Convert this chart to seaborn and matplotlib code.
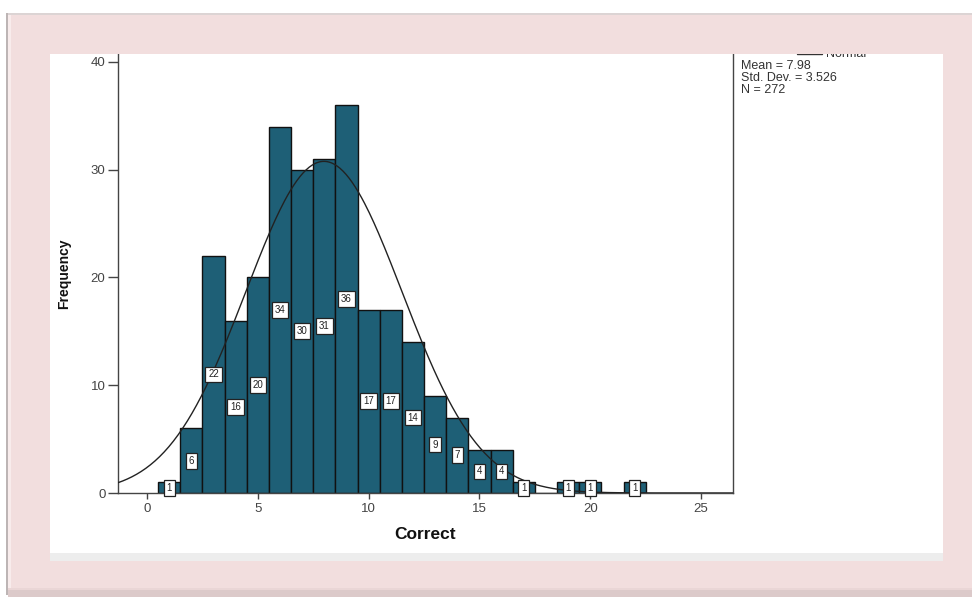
import numpy as np
import matplotlib
matplotlib.use("Agg")
import matplotlib.pyplot as plt
from matplotlib.patches import Rectangle
from matplotlib.lines import Line2D
import seaborn as sns

# ---- data ----
scores = [1, 2, 3, 4, 5, 6, 7, 8, 9, 10, 11, 12, 13, 14, 15, 16, 17, 19, 20, 22]
counts = [1, 6, 22, 16, 20, 34, 30, 31, 36, 17, 17, 14, 9, 7, 4, 4, 1, 1, 1, 1]
x_ticks = [0, 5, 10, 15, 20, 25]
y_ticks = [0, 10, 20, 30, 40]
x_label = "Correct"
y_label = "Frequency"

sns.set_style("ticks")
plt.rcParams["font.family"] = ["Liberation Sans", "DejaVu Sans"]

W, H = 972, 597
fig = plt.figure(figsize=(W / 100, H / 100), dpi=100)
fig.patch.set_facecolor("white")

def fx(x):
    return x / W

def fy(y):
    return 1 - y / H

ax = fig.add_axes([fx(118), fy(493), (733 - 118) / W, (493 - 54) / H])
ax.set_facecolor("white")

bar_color = "#1E5F76"
sns.histplot(x=scores, weights=counts, discrete=True, color=bar_color,
             edgecolor="#111111", linewidth=1.0, alpha=1.0, ax=ax, zorder=2)

# fitted normal curve from the data
s = np.array(scores, float)
c = np.array(counts, float)
n = c.sum()
mean = (s * c).sum() / n
sd = np.sqrt(((s - mean) ** 2 * c).sum() / (n - 1))
xs = np.linspace(-1.31, 26.44, 400)
ys = n * 1.0 * np.exp(-0.5 * ((xs - mean) / sd) ** 2) / (sd * np.sqrt(2 * np.pi))
ax.plot(xs, ys, color="#222222", lw=1.0, zorder=3)

for xv, cv in zip(scores, counts):
    ax.text(xv, cv / 2, str(cv), ha="center", va="center", fontsize=7,
            color="#222222", zorder=4,
            bbox=dict(boxstyle="square,pad=0.3", fc="white", ec="#222222", lw=0.9))

ax.set_xlim(-1.31, 26.44)
ax.set_ylim(0, 40.74)
ax.set_xticks(x_ticks)
ax.set_yticks(y_ticks)
ax.tick_params(axis="x", direction="out", length=4, width=1, color="#444444",
               labelsize=9.5, labelcolor="#444444", pad=3)
ax.tick_params(axis="y", direction="out", length=7, width=1, color="#444444",
               labelsize=9.5, labelcolor="#444444", pad=2)
for side in ["left", "bottom", "right"]:
    ax.spines[side].set_visible(True)
    ax.spines[side].set_color("#444444")
    ax.spines[side].set_linewidth(1.0)
ax.spines["top"].set_visible(False)
ax.set_xlabel(x_label, fontsize=12.5, fontweight="bold", color="#111111", labelpad=9)
ax.set_ylabel(y_label, fontsize=10, fontweight="bold", color="#111111", labelpad=14)

# legend text (SPSS style)
fig.text(fx(826), fy(57), "Normal", fontsize=9, color="#333333", va="baseline", ha="left")
fig.add_artist(Line2D([fx(797), fx(822)], [fy(54), fy(54)], color="#333333", lw=1))
fig.text(fx(741), fy(60), "Mean = 7.98\nStd. Dev. = 3.526\nN = 272", fontsize=9,
         color="#333333", va="top", ha="left", linespacing=0.98)

# pink picture frame drawn on top
pink = "#F2DEDE"

def rect(x0, y0, x1, y1, color, z=20):
    fig.add_artist(Rectangle((fx(x0), fy(y1)), (x1 - x0) / W, (y1 - y0) / H,
                             transform=fig.transFigure, facecolor=color,
                             edgecolor="none", zorder=z))

rect(0, 0, W, 13, "white", 19)
rect(8, 13, W, 54, pink)
rect(8, 54, 50, 597, pink)
rect(943, 54, W, 597, pink)
rect(8, 561, W, 597, pink)
rect(50, 553, 943, 561, "#EDEDED")
# frame edges / shadows
rect(6, 13, 8, 595, "#BDB5B5", 21)
rect(8, 13, W, 15, "#DCD4D4", 21)
rect(8, 15, 11, 592, "#F8ECEC", 21)
rect(8, 590, W, 597, "#DCCACA", 21)
rect(8, 588, W, 590, "#EAD6D6", 21)

fig.savefig("out.png", dpi=100, facecolor=fig.get_facecolor())
